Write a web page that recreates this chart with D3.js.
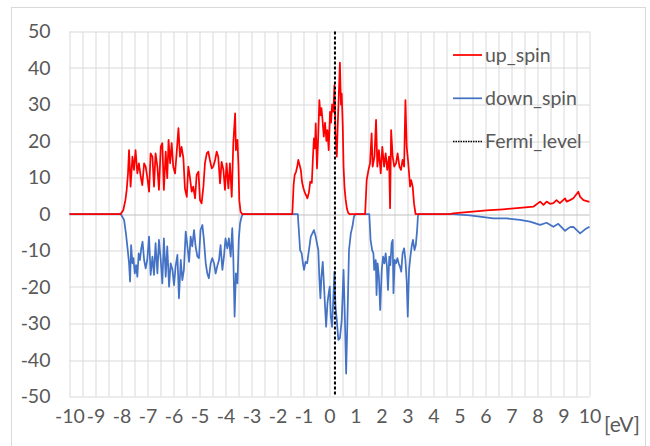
<!DOCTYPE html>
<html>
<head>
<meta charset="utf-8">
<script src="https://cdn.jsdelivr.net/npm/d3@7"></script>
<style>
  body { margin: 0; background: #fff; }
  svg { display: block; font-family: Lato, "Open Sans", sans-serif; }
</style>
</head>
<body>
<svg id="dos" width="650" height="446"></svg>
<script>
// energy axis ticks [eV]
var xTicks = [-10,-9,-8,-7,-6,-5,-4,-3,-2,-1,0,1,2,3,4,5,6,7,8,9,10];
var yTicks = [50,40,30,20,10,0,-10,-20,-30,-40,-50];
var fermiLevel = 0.21;

// up spin DOS, [energy, states]
var upFlatLow = [[-10,0],[-8.03,0]];
var upBand1 = [[-7.93,1.1],[-7.85,3.8],[-7.80,6.6],[-7.75,11.1],[-7.71,17.5],[-7.65,7.5],[-7.58,15.7],[-7.52,12.1],
  [-7.46,17.5],[-7.39,11.1],[-7.33,13.9],[-7.26,10.2],[-7.20,7.9],[-7.13,13.9],[-7.07,13.0],[-7.01,10.2],
  [-6.94,6.1],[-6.88,16.6],[-6.81,15.7],[-6.75,7.5],[-6.69,16.6],[-6.62,13.0],[-6.56,6.6],[-6.49,18.4],
  [-6.43,19.4],[-6.37,6.6],[-6.30,17.1],[-6.24,9.8],[-6.19,20.3],[-6.13,13.9],[-6.07,19.4],[-6.01,13.0],
  [-5.94,11.1],[-5.88,16.6],[-5.81,23.5],[-5.75,15.7],[-5.69,18.4],[-5.62,15.3],[-5.56,7.0],[-5.49,4.7],
  [-5.43,13.0],[-5.37,10.2],[-5.30,6.1],[-5.24,7.5],[-5.17,4.3],[-5.11,10.7],[-5.04,11.6],[-4.98,3.8],
  [-4.92,2.9],[-4.85,7.5],[-4.79,13.9],[-4.72,16.6],[-4.66,17.1],[-4.60,14.8],[-4.53,12.5],[-4.47,13.0],
  [-4.40,14.8],[-4.34,17.1],[-4.28,15.7],[-4.21,8.4],[-4.15,14.3],[-4.08,12.1],[-4.02,6.6],[-3.96,13.9],
  [-3.89,7.0],[-3.83,13.9],[-3.76,4.7],[-3.70,19.4],[-3.63,27.6],[-3.60,17.5],[-3.54,20.3],[-3.50,13.0],
  [-3.47,3.8],[-3.42,0.6],[-3.36,0]];
var upBand2 = [[-1.43,0],[-1.38,8],[-1.34,10.7],[-1.29,11.5],[-1.24,13],[-1.20,14.8],[-1.15,13.4],[-1.10,12],
  [-1.06,8.9],[-1.00,7],[-0.94,5.7],[-0.89,5],[-0.85,4.3],[-0.79,6],[-0.74,8.9],[-0.68,8.5],[-0.64,15],
  [-0.60,20.7],[-0.56,18],[-0.53,24.8],[-0.48,12.5],[-0.43,22],[-0.39,31.2],[-0.35,27],[-0.31,29],[-0.27,26],
  [-0.22,21.2],[-0.17,25],[-0.12,20],[-0.08,23],[-0.03,17.5],[0.02,28],[0.06,25],[0.10,30],[0.15,28],
  [0.19,35.3],[0.23,22],[0.28,15.7],[0.32,25],[0.36,33],[0.40,41.5],[0.44,30],[0.47,33],[0.51,24],
  [0.54,13],[0.58,7],[0.62,4],[0.67,1.5],[0.72,0.3],[0.77,0]];
var upBand3 = [[1.37,0],[1.43,9.3],[1.50,12.1],[1.56,13.9],[1.62,22.1],[1.66,13.0],[1.73,15.7],[1.79,25.8],
  [1.84,13.0],[1.90,17.5],[1.97,11.1],[2.03,18.4],[2.10,13.0],[2.16,16.6],[2.22,12.1],[2.29,15.7],[2.33,1.6],
  [2.37,23.0],[2.43,15.7],[2.49,13.0],[2.56,13.9],[2.62,16.6],[2.69,13.0],[2.75,12.1],[2.81,14.8],[2.87,13.0],
  [2.92,31.2],[2.97,18.4],[3.03,13.9],[3.10,7.5],[3.14,9.3],[3.20,7.5],[3.25,2.9],[3.31,0]];
var upTail = [[4.63,0],[4.76,0.2],[5.40,0.6],[6.04,1.0],[6.68,1.3],[7.32,1.7],[7.84,2.0],[8.10,3.4],[8.23,2.5],
  [8.35,3.4],[8.48,2.8],[8.61,3.0],[8.73,3.8],[8.86,3.0],[9.06,4.3],[9.12,3.4],[9.25,3.8],[9.38,4.3],
  [9.57,6.1],[9.64,4.7],[9.77,3.8],[9.96,3.4],[10,3.4]];

// down spin DOS
var downFlatLow = [[-10,0],[-8.03,0]];
var downBand1 = [[-7.90,-1.6],[-7.83,-5.3],[-7.76,-9.9],[-7.71,-13.5],[-7.67,-18.5],[-7.63,-8.5],[-7.58,-13.5],
  [-7.54,-12.1],[-7.49,-16.3],[-7.44,-14.0],[-7.39,-17.2],[-7.34,-10.8],[-7.29,-12.6],[-7.24,-9.4],[-7.19,-7.6],
  [-7.13,-12.6],[-7.07,-14.9],[-7.01,-12.6],[-6.94,-6.2],[-6.88,-16.7],[-6.81,-11.7],[-6.75,-16.7],[-6.69,-8.0],
  [-6.62,-16.3],[-6.56,-7.1],[-6.49,-12.6],[-6.43,-19.0],[-6.37,-6.7],[-6.30,-17.2],[-6.24,-8.9],[-6.17,-19.9],
  [-6.11,-13.5],[-6.04,-15.3],[-5.98,-19.5],[-5.92,-14.4],[-5.85,-11.2],[-5.79,-23.1],[-5.72,-12.6],[-5.66,-18.1],
  [-5.60,-15.3],[-5.53,-4.8],[-5.47,-8.5],[-5.40,-13.1],[-5.34,-6.2],[-5.28,-8.9],[-5.21,-4.4],[-5.15,-8.9],
  [-5.08,-11.7],[-5.02,-12.1],[-4.96,-4.4],[-4.89,-3.0],[-4.83,-7.1],[-4.76,-13.5],[-4.70,-16.3],[-4.64,-17.6],
  [-4.57,-13.5],[-4.51,-12.1],[-4.44,-13.5],[-4.38,-16.3],[-4.32,-14.4],[-4.25,-12.6],[-4.19,-8.5],[-4.12,-15.3],
  [-4.06,-11.7],[-4.00,-6.7],[-3.93,-9.4],[-3.87,-6.7],[-3.80,-11.7],[-3.74,-3.9],[-3.70,-11.7],[-3.65,-28.1],
  [-3.60,-16.3],[-3.54,-19.0],[-3.49,-7.1],[-3.44,-2.6],[-3.38,-0.7],[-3.33,0]];
var downBand2 = [[-1.22,0],[-1.18,-4.4],[-1.13,-9.9],[-1.07,-10.8],[-1.02,-13.5],[-0.98,-15.3],[-0.92,-13.1],
  [-0.86,-13.5],[-0.79,-9.9],[-0.72,-6.2],[-0.66,-5.3],[-0.60,-4.4],[-0.53,-6.2],[-0.47,-8.5],[-0.43,-9.9],
  [-0.39,-17.6],[-0.35,-23.1],[-0.31,-17.2],[-0.26,-13.1],[-0.21,-19.9],[-0.17,-25.4],[-0.13,-30.9],
  [-0.08,-24.5],[-0.03,-21.7],[0.01,-19.9],[0.05,-28.1],[0.10,-30.9],[0.15,-22.6],[0.19,-15.8],[0.23,-25.4],
  [0.28,-29.0],[0.34,-34.5],[0.40,-34.1],[0.47,-29.0],[0.54,-15.3],[0.59,-28.1],[0.64,-43.7],[0.69,-29.0],
  [0.75,-9.9],[0.82,-5.3],[0.88,-3.5],[0.94,-0.7],[1.01,0]];
var downBand3 = [[1.53,0],[1.58,-7.1],[1.64,-9.9],[1.69,-10.8],[1.72,-15.3],[1.78,-12.6],[1.81,-22.2],[1.85,-13.5],
  [1.90,-17.2],[1.95,-26.3],[2.01,-15.3],[2.06,-11.7],[2.11,-13.5],[2.16,-10.8],[2.21,-14.4],[2.25,-20.8],
  [2.30,-11.7],[2.34,-14.0],[2.39,-8.0],[2.43,-7.1],[2.46,-21.7],[2.51,-12.6],[2.56,-13.5],[2.61,-12.1],
  [2.66,-13.5],[2.71,-14.4],[2.76,-15.8],[2.81,-10.8],[2.87,-9.4],[2.92,-12.6],[2.97,-18.5],[3.01,-28.1],
  [3.06,-15.3],[3.11,-11.7],[3.16,-8.9],[3.21,-7.1],[3.27,-9.9],[3.32,-8.5],[3.37,-4.4],[3.40,-0.7],[3.43,0]];
var downTail = [[4.63,0],[5.40,-0.4],[6.30,-1.2],[6.81,-1.2],[7.33,-1.6],[7.71,-2.1],[8.10,-3.0],[8.35,-2.4],
  [8.61,-3.5],[8.80,-2.7],[9.06,-4.6],[9.25,-3.6],[9.38,-3.5],[9.64,-5.3],[9.83,-4.2],[10,-3.5]];

var upSpin = [].concat(upFlatLow, upBand1, upBand2, upBand3, upTail);
var downSpin = [].concat(downFlatLow, downBand1, downBand2, downBand3, downTail);

var svg = d3.select('#dos');
var margin = {top: 31.5, left: 69.5};
var w = 520, h = 365;
var labelFont = '19.5px';

// outer chart border
svg.append('rect')
  .attr('x', 11.5).attr('y', 7.5)
  .attr('width', 634).attr('height', 460)
  .style('fill', 'none').style('stroke', '#d9d9d9');

var xScale = d3.scaleLinear().domain([-10, 10]).range([0, w]);
var yScale = d3.scaleLinear().domain([-50, 50]).range([h, 0]);

var g = svg.append('g')
  .attr('transform', 'translate(' + margin.left + ',' + margin.top + ')');

// vertical grid every 0.5 eV
g.append('g')
  .selectAll('line')
  .data(d3.range(-10, 10.01, 0.5))
  .join('line')
  .attr('x1', function(d) { return Math.round(xScale(d)) + 0.5; })
  .attr('x2', function(d) { return Math.round(xScale(d)) + 0.5; })
  .attr('y1', 0).attr('y2', h)
  .style('stroke', '#d9d9d9');

// horizontal grid
g.append('g')
  .selectAll('line')
  .data(yTicks)
  .join('line')
  .attr('x1', 0).attr('x2', w)
  .attr('y1', function(d) { return Math.round(yScale(d)) + 0.5; })
  .attr('y2', function(d) { return Math.round(yScale(d)) + 0.5; })
  .style('stroke', function(d) { return d === 0 ? '#bfbfbf' : '#d9d9d9'; });

// plain hyphen minus like the original labels
var plain = function(d) { return String(d); };

// y axis labels
var yAxis = d3.axisLeft(yScale).tickValues(yTicks).tickSize(0).tickPadding(19).tickFormat(plain);
g.append('g').call(yAxis).call(function(a) {
  a.select('.domain').remove();
  a.selectAll('text').style('font-size', labelFont).style('fill', '#595959')
    .style('font-family', 'Lato, sans-serif');
});

// x axis labels
var xAxis = d3.axisBottom(xScale).tickValues(xTicks).tickSize(0).tickPadding(13).tickFormat(plain);
g.append('g').attr('transform', 'translate(0,' + h + ')').call(xAxis).call(function(a) {
  a.select('.domain').remove();
  a.selectAll('text').style('font-size', labelFont).style('fill', '#595959')
    .style('font-family', 'Lato, sans-serif');
});
svg.append('text')
  .attr('x', 604).attr('y', 432)
  .style('font-size', '21px').style('fill', '#595959')
  .text('[eV]');

var line = d3.line()
  .x(function(d) { return xScale(d[0]); })
  .y(function(d) { return yScale(d[1]); });

g.append('path').datum(downSpin)
  .attr('d', line)
  .style('fill', 'none').style('stroke', '#4472c4').style('stroke-width', 1.75)
  .style('stroke-linejoin', 'round');

g.append('path').datum(upSpin)
  .attr('d', line)
  .style('fill', 'none').style('stroke', '#ff0000').style('stroke-width', 1.75)
  .style('stroke-linejoin', 'round');

// Fermi level
g.append('line')
  .attr('x1', xScale(fermiLevel)).attr('x2', xScale(fermiLevel))
  .attr('y1', yScale(50)).attr('y2', yScale(-50))
  .style('stroke', '#000').style('stroke-width', 2)
  .style('stroke-dasharray', '3,2');

// legend
var legend = [
  {name: 'up_spin', color: '#ff0000', dash: null, width: 1.75},
  {name: 'down_spin', color: '#4472c4', dash: null, width: 1.75},
  {name: 'Fermi_level', color: '#000', dash: '1.5,1', width: 1.5}
];
var lg = svg.append('g').attr('transform', 'translate(453,55)');
legend.forEach(function(d, i) {
  var row = lg.append('g').attr('transform', 'translate(0,' + (i * 43.3) + ')');
  row.append('line')
    .attr('x1', 0).attr('x2', 29).attr('y1', 0).attr('y2', 0)
    .style('stroke', d.color).style('stroke-width', d.width)
    .style('stroke-dasharray', d.dash);
  row.append('text')
    .attr('x', 32).attr('y', 0).attr('dy', '0.35em')
    .style('font-size', labelFont).style('fill', '#595959')
    .text(d.name);
});
</script>
</body>
</html>
